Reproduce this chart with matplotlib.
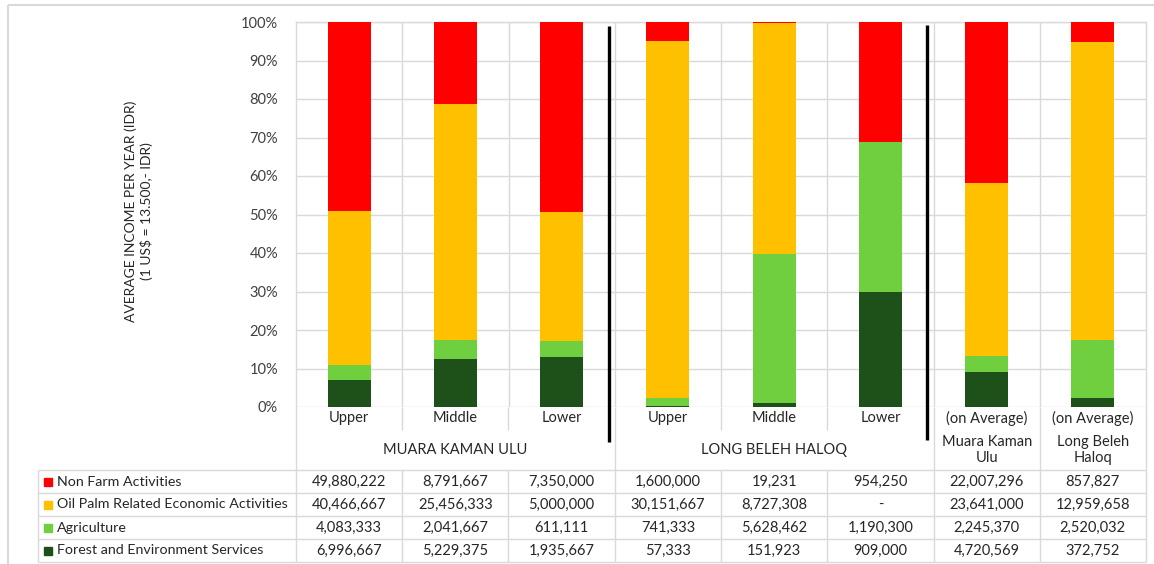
import matplotlib
matplotlib.use("Agg")
import matplotlib.pyplot as plt
import numpy as np
from matplotlib.ticker import PercentFormatter

plt.rcParams['font.family'] = ['Lato', 'DejaVu Sans']

categories = ["Upper", "Middle", "Lower", "Upper", "Middle", "Lower",
              "(on Average)", "(on Average)"]
groups = ["MUARA KAMAN ULU", "LONG BELEH HALOQ", "Muara Kaman\nUlu", "Long Beleh\nHaloq"]
group_spans = [(0, 2), (3, 5), (6, 6), (7, 7)]
series_names = ["Non Farm Activities", "Oil Palm Related Economic Activities",
                "Agriculture", "Forest and Environment Services"]
non_farm = [49880222, 8791667, 7350000, 1600000, 19231, 954250, 22007296, 857827]
oil_palm = [40466667, 25456333, 5000000, 30151667, 8727308, 0, 23641000, 12959658]
agriculture = [4083333, 2041667, 611111, 741333, 5628462, 1190300, 2245370, 2520032]
forest = [6996667, 5229375, 1935667, 57333, 151923, 909000, 4720569, 372752]
colors = ["#FF0000", "#FFC000", "#6FCF3F", "#1E5119"]
ylabel = "AVERAGE INCOME PER YEAR (IDR)\n(1 US$ = 13.500,- IDR)"

W, H = 1154, 564
fig = plt.figure(figsize=(W / 100, H / 100), dpi=100)

# pixel layout
PL, PR, PT, PB = 296, 1146, 22, 407
ncol = len(categories)
colw = (PR - PL) / ncol

def px2x(px):
    return -0.5 + (px - PL) / colw

grid_c = "#D9D9D9"
txt_c = "#262626"

# overlay axes in "column" x units and pixel y units
tab = fig.add_axes([0, 0, 1, 1], zorder=3)
tab.set_xlim(px2x(0), px2x(W))
tab.set_ylim(H, 0)
tab.axis('off')

ax = fig.add_axes([PL / W, 1 - PB / H, (PR - PL) / W, (PB - PT) / H], zorder=2)
ax.set_xlim(-0.5, ncol - 0.5)
ax.set_ylim(0, 1)

data = np.array([non_farm, oil_palm, agriculture, forest], dtype=float)
totals = data.sum(axis=0)
shares = data / totals
x = np.arange(ncol)
bottom = np.zeros(ncol)
for i in [3, 2, 1, 0]:
    ax.bar(x, shares[i], 0.405, bottom=bottom, color=colors[i], zorder=3, linewidth=0)
    bottom += shares[i]

ax.set_yticks(np.arange(0, 1.01, 0.1))
ax.yaxis.set_major_formatter(PercentFormatter(1.0, decimals=0))
ax.yaxis.grid(True, color=grid_c, lw=1, zorder=0)
ax.set_xticks([])
ax.tick_params(axis='y', length=0, pad=13, labelsize=10.5, labelcolor="#404040")
for s in ax.spines.values():
    s.set_color(grid_c)
    s.set_linewidth(1)
ax.spines['bottom'].set_visible(False)
ax.vlines(np.arange(0.5, ncol - 0.5), 0, 1, color=grid_c, lw=1, zorder=1)

# y-axis title
tab.text(px2x(139), 211, ylabel, rotation=90, ha='center', va='center',
         fontsize=10, color=txt_c, linespacing=1.3)

# ---- table ----
row_tops = [470, 493, 516, 539, 562]
LEG_L = px2x(38)
RIGHT = ncol - 0.5
kw = dict(color=grid_c, lw=1, zorder=1)
for y in row_tops:
    tab.hlines(y, LEG_L, RIGHT, **kw)
tab.vlines(LEG_L, 470, 562, **kw)
tab.vlines(-0.5, PB, 562, **kw)
tab.vlines(RIGHT, PB, 562, **kw)
for b in np.arange(0.5, ncol - 0.5):
    if b in (2.5, 5.5, 6.5):
        tab.vlines(b, PB, 562, **kw)
    else:
        tab.vlines(b, PB, 430, **kw)
        tab.vlines(b, 470, 562, **kw)

# black dividers
tab.vlines(px2x(609), 26, 442, color="black", lw=2.4, zorder=5)
tab.vlines(px2x(927), 25, 440, color="black", lw=2.4, zorder=5)

for i, c in enumerate(categories):
    tab.text(i, 418, c, ha='center', va='center', fontsize=10.5, color=txt_c)
for g, (a, b) in zip(groups, group_spans):
    tab.text((a + b) / 2, 450, g, ha='center', va='center', fontsize=10.5,
             color=txt_c, linespacing=1.2)

sq = 8
for r, name in enumerate(series_names):
    yc = (row_tops[r] + row_tops[r + 1]) / 2
    tab.add_patch(plt.Rectangle((px2x(44), yc - sq / 2), sq / colw, sq,
                                color=colors[r], zorder=4))
    tab.text(px2x(57), yc, name, ha='left', va='center', fontsize=10.3, color=txt_c)
    for j in range(ncol):
        v = int(data[r, j])
        s = f"{v:,}" if v != 0 else "-"
        tab.text(j, yc, s, ha='center', va='center', fontsize=10.5, color=txt_c)

# outer chart border
tab.hlines(5, px2x(8), px2x(W), color=grid_c, lw=1.5)
tab.vlines(px2x(8), 5, H, color=grid_c, lw=1.5)

fig.savefig("out.png", dpi=100)
